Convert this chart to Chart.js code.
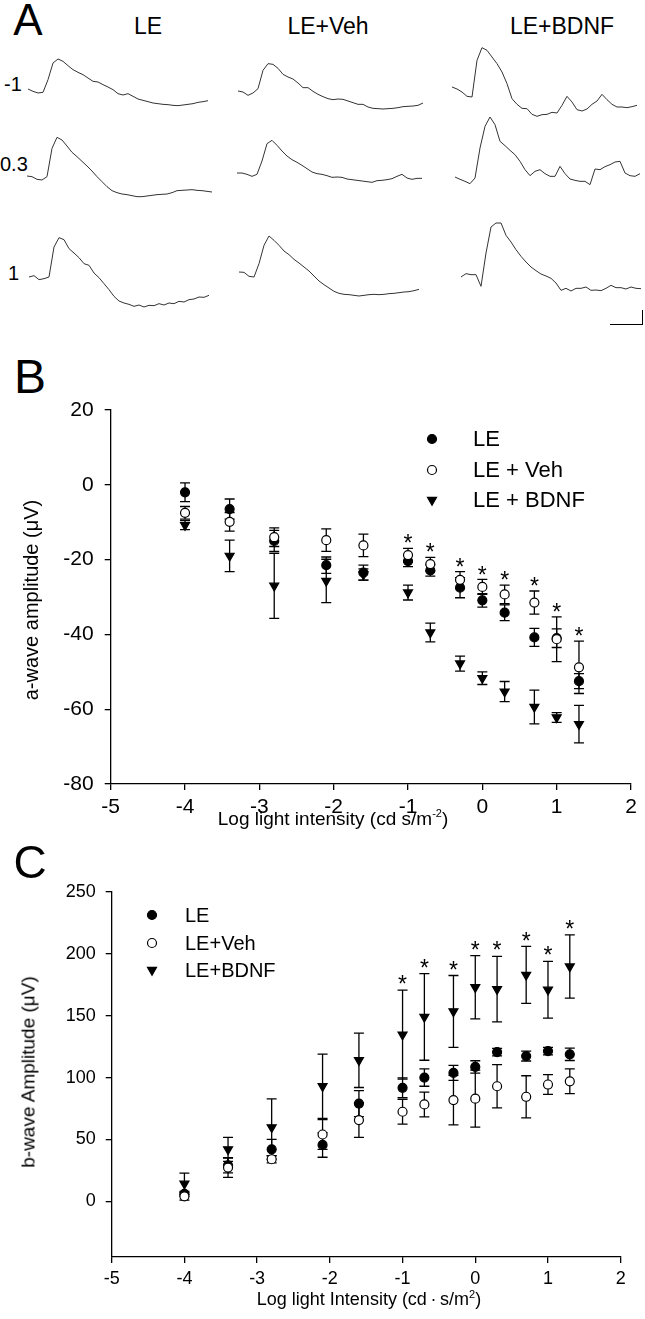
<!DOCTYPE html>
<html>
<head>
<meta charset="utf-8">
<script src="https://cdn.jsdelivr.net/npm/chart.js@4.4.0/dist/chart.umd.min.js"></script>
<style>
  body { margin: 0; background: #fff; }
  #fig { position: relative; width: 645px; height: 1319px; overflow: hidden;
         font-family: "Liberation Sans", Arial, sans-serif; color: #000; }
  .txt { position: absolute; white-space: nowrap; line-height: 1; }
  canvas { position: absolute; }
</style>
</head>
<body>
<div id="fig"></div>
<script>
// ---- panel A: ERG traces (amplitude in µV, one sample every 5 ms) ----
const groups = ["LE", "LE+Veh", "LE+BDNF"];
const flashLabels = ["-1", "0.3", "1"];

const ergLE_m1 = [0,-7,-12,-10,28,78,90,83,70,58,50,43,33,23,21,13,6,-2,-14,-18,-14,-22,-30,-34,-38,-42,-44,-46,-47,-49,-50,-48,-46,-44,-40,-38,-35];
const ergLE_03 = [0,-2,-10,-12,-2,83,116,108,90,71,58,44,30,15,-2,-17,-32,-44,-50,-54,-56,-59,-62,-62,-60,-58,-56,-55,-54,-50,-44,-43,-42,-41,-43,-44,-46,-48];
const ergLE_1 = [0,4,-8,-5,0,90,118,112,85,72,58,40,35,12,-2,-20,-38,-58,-72,-78,-82,-88,-84,-90,-85,-86,-80,-84,-78,-80,-73,-75,-68,-66,-60,-61,-55];
const ergVeh_m1 = [0,-3,-13,-6,7,62,82,80,68,50,42,36,24,10,10,-1,-10,-17,-23,-26,-24,-25,-30,-35,-40,-40,-48,-52,-53,-54,-53,-52,-50,-47,-46,-45,-43,-36];
const ergVeh_03 = [0,0,-4,-10,-4,36,88,98,83,66,51,40,32,23,13,3,-2,-4,-8,-13,-12,-13,-18,-20,-22,-24,-26,-28,-23,-22,-20,-17,-10,-4,-15,-19,-16,-16];
const ergVeh_1 = [0,-1,-13,-15,25,80,108,95,80,63,52,38,27,15,3,-12,-27,-38,-48,-58,-64,-67,-68,-70,-72,-70,-68,-67,-68,-67,-65,-64,-62,-60,-59,-56,-52];
const ergBDNF_m1 = [0,-6,-15,-28,-30,80,118,110,90,70,45,10,-35,-52,-64,-65,-82,-88,-83,-82,-76,-78,-55,-28,-45,-68,-72,-66,-52,-42,-22,-38,-52,-60,-60,-62,-59,-55];
const ergBDNF_03 = [0,-7,-13,-20,-3,87,152,180,157,107,94,80,67,47,22,4,17,22,10,2,2,32,10,-6,-10,-13,-13,-23,24,22,31,37,45,47,12,4,2,10];
const ergBDNF_1 = [0,10,7,7,-28,72,150,162,162,125,105,82,62,45,30,19,9,3,-4,-18,-40,-34,-42,-34,-34,-30,-40,-39,-41,-34,-25,-32,-32,-36,-30,-34,-35];
const SAMPLE_MS = 5;

// ---- panels B and C: mean ± SEM ----
const intensity = [-4, -3.4, -2.8, -2.1, -1.6, -1, -0.7, -0.3, 0, 0.3, 0.7, 1, 1.3];

const aLE = [-2, -6.5, -15, -21.5, -23.5, -20.4, -22.9, -27.5, -30.9, -34.2, -40.8, -41, -52.5];
const aLEErr = [2.5, 2.7, 2.8, 2.2, 2, 1.5, 1.5, 2.7, 1.8, 2.1, 2.4, 2.5, 2];
const aVeh = [-7.5, -9.9, -14, -14.8, -16.2, -18.8, -21.2, -25.4, -27.3, -29.3, -31.5, -41.3, -48.8];
const aVehErr = [1.7, 2.5, 2.5, 3, 3, 1.8, 1.8, 2.2, 2, 2.5, 3.1, 6, 7];
const aBDNF = [-10.8, -19, -27, -25.7, -24, -28.8, -39.5, -47.8, -51.7, -55.3, -59.4, -62.2, -64];
const aBDNFErr = [1.2, 4.2, 8.7, 5.8, 1.5, 2, 2.5, 2, 1.7, 2.7, 4.5, 1.3, 5];

const bLE = [6, 29, 42, 45.6, 79, 91.7, 100, 103.8, 108.6, 120.6, 117.4, 121.4, 118.8];
const bLEErr = [2, 6, 8, 10, 10.5, 8, 7, 6, 5, 3, 4, 3, 5];
const bVeh = [4, 27.3, 34, 54, 65.7, 72.4, 78.3, 81.8, 83, 93, 84.5, 94.4, 97];
const bVehErr = [3, 8, 3, 12, 14, 10, 10, 20, 23, 17.5, 17, 8, 10];
const bBDNF = [14.2, 42, 59.8, 93, 114, 134.7, 149, 153.5, 173, 171.5, 183, 171, 189.8];
const bBDNFErr = [8.6, 9.7, 23, 26, 22, 36, 35, 29, 25.6, 26.5, 23, 23, 25.5];

const aSignificant = [-1, -0.7, -0.3, 0, 0.3, 0.7, 1, 1.3];
const bSignificant = [-1, -0.7, -0.3, 0, 0.3, 0.7, 1, 1.3];

const xTicks = [-5, -4, -3, -2, -1, 0, 1, 2];
const aYTicks = [-80, -60, -40, -20, 0, 20];
const bYTicks = [0, 50, 100, 150, 200, 250];
const aLegend = ["LE", "LE + Veh", "LE + BDNF"];
const bLegend = ["LE", "LE+Veh", "LE+BDNF"];

// ---------------------------------------------------------------
const fig = document.getElementById("fig");
Chart.defaults.font.family = '"Liberation Sans", Arial, sans-serif';
Chart.defaults.color = "#000";

function addText(html, x, y, size, opts = {}) {
  const d = document.createElement("div");
  d.className = "txt";
  d.innerHTML = html;
  d.style.fontSize = size + "px";
  d.style.left = x + "px";
  d.style.top = y + "px";
  const tx = opts.align === "left" ? "0" : "-50%";
  d.style.transform = `translate(${tx},-50%)` + (opts.rotate ? " rotate(-90deg)" : "");
  fig.appendChild(d);
  return d;
}

function addCanvas(left, top, w, h) {
  const c = document.createElement("canvas");
  c.width = w; c.height = h;
  c.style.left = left + "px"; c.style.top = top + "px";
  c.style.width = w + "px"; c.style.height = h + "px";
  fig.appendChild(c);
  return c;
}

// panel A
addText("A", 28, 20, 44);
addText(groups[0], 148, 26, 23);
addText(groups[1], 328, 26, 23);
addText(groups[2], 562, 26, 23);
addText(flashLabels[0], 4, 84, 20, { align: "left" });
addText(flashLabels[1], 0, 164, 20, { align: "left" });
addText(flashLabels[2], 8, 273, 20, { align: "left" });

const TRACE_MIN = -105, TRACE_MAX = 195, UV_PER_PX = 3;
const traces = [
  [ergLE_m1, 28.3, 89.3], [ergLE_03, 26.7, 176], [ergLE_1, 29.3, 276.7],
  [ergVeh_m1, 238.3, 90.7], [ergVeh_03, 236.7, 172.7], [ergVeh_1, 239, 271.7],
  [ergBDNF_m1, 451.7, 86.7], [ergBDNF_03, 455, 177.3], [ergBDNF_1, 460.7, 277.3]
];
traces.forEach(([vals, left, base]) => {
  const w = (vals.length - 1) * SAMPLE_MS;
  const h = (TRACE_MAX - TRACE_MIN) / UV_PER_PX;
  const c = addCanvas(left, base - TRACE_MAX / UV_PER_PX, w, h);
  new Chart(c, {
    type: "line",
    data: {
      labels: vals.map((_, i) => i * SAMPLE_MS),
      datasets: [{ data: vals, borderColor: "#333", borderWidth: 1, pointRadius: 0, tension: 0 }]
    },
    options: {
      responsive: false, animation: false, devicePixelRatio: 1,
      layout: { padding: 0 },
      plugins: { legend: { display: false }, tooltip: { enabled: false } },
      scales: { x: { display: false }, y: { display: false, min: TRACE_MIN, max: TRACE_MAX } }
    }
  });
});
// scale bar
const bar = document.createElement("div");
Object.assign(bar.style, { position: "absolute", left: "610px", top: "310px", width: "32px", height: "14px",
  borderRight: "1.5px solid #000", borderBottom: "1.5px solid #000" });
fig.appendChild(bar);

// ---- plugins for B and C ----
const CAP = 5;
const errorBars = {
  id: "errorBars",
  beforeDatasetsDraw(chart) {
    const { ctx, scales: { x, y } } = chart;
    ctx.save();
    ctx.strokeStyle = "#000";
    ctx.lineWidth = 1.3;
    chart.data.datasets.forEach(ds => {
      ds.data.forEach((p, i) => {
        const e = ds.errors[i];
        const px = x.getPixelForValue(p.x);
        const t = y.getPixelForValue(p.y + e), b = y.getPixelForValue(p.y - e);
        ctx.beginPath();
        ctx.moveTo(px, t); ctx.lineTo(px, b);
        ctx.moveTo(px - CAP, t); ctx.lineTo(px + CAP, t);
        ctx.moveTo(px - CAP, b); ctx.lineTo(px + CAP, b);
        ctx.stroke();
      });
    });
    ctx.restore();
  },
  afterDatasetsDraw(chart, args, opts) {
    // significance stars above the highest cap
    const { ctx, scales: { x, y } } = chart;
    ctx.save();
    ctx.fillStyle = "#000";
    ctx.font = `${opts.starSize}px "Liberation Sans", Arial`;
    ctx.textAlign = "center";
    ctx.textBaseline = "alphabetic";
    opts.significant.forEach(xv => {
      let top = Infinity;
      chart.data.datasets.forEach(ds => {
        const i = ds.data.findIndex(p => p.x === xv);
        if (i >= 0) top = Math.min(top, y.getPixelForValue(ds.data[i].y + ds.errors[i]));
      });
      ctx.fillText("*", x.getPixelForValue(xv), top - opts.gap + 0.57 * opts.starSize);
    });
    ctx.restore();
  }
};

const pointLegend = {
  id: "pointLegend",
  afterDraw(chart, args, opts) {
    const { ctx } = chart;
    ctx.save();
    chart.data.datasets.forEach((ds, i) => {
      const y = opts.rows[i];
      ctx.fillStyle = ds.backgroundColor;
      ctx.strokeStyle = ds.borderColor;
      ctx.lineWidth = ds.borderWidth;
      Chart.helpers.drawPoint(ctx, {
        pointStyle: ds.pointStyle, radius: ds.pointRadius, rotation: ds.rotation || 0,
        borderWidth: ds.borderWidth
      }, opts.symbolX, y);
      ctx.fillStyle = "#000";
      ctx.font = `${opts.size}px "Liberation Sans", Arial`;
      ctx.textAlign = "left";
      ctx.textBaseline = "middle";
      ctx.fillText(opts.labels[i], opts.textX, y + 1);
    });
    ctx.restore();
  }
};

function series(vals, errs, style) {
  return Object.assign({
    data: intensity.map((x, i) => ({ x, y: vals[i] })),
    errors: errs,
    borderColor: "#000",
    borderWidth: 1.2
  }, style);
}
const styleLE = { backgroundColor: "#000", pointStyle: "circle", pointRadius: 4.5, order: 1 };
const styleVeh = { backgroundColor: "#fff", pointStyle: "circle", pointRadius: 4.5, order: 0 };
const styleBDNF = { backgroundColor: "#000", pointStyle: "triangle", pointRadius: 5.2, rotation: 180, order: 2 };

function axisOpts(min, max, ticks, size, pad, fit) {
  return {
    type: "linear", min, max,
    afterBuildTicks: s => { s.ticks = ticks.map(v => ({ value: v })); },
    afterFit: fit,
    grid: { drawOnChartArea: false, drawTicks: true, tickLength: 6, color: "#000", lineWidth: 1.3 },
    border: { color: "#000", width: 1.3 },
    ticks: { color: "#000", font: { size }, padding: pad, maxRotation: 0, autoSkip: false,
             callback: v => String(v) }
  };
}

function scatterPanel(canvas, datasets, cfg) {
  return new Chart(canvas, {
    type: "scatter",
    data: { datasets },
    plugins: [errorBars, pointLegend],
    options: {
      responsive: false, animation: false, devicePixelRatio: 1,
      layout: { padding: cfg.padding },
      plugins: {
        legend: { display: false }, tooltip: { enabled: false },
        errorBars: { significant: cfg.significant, gap: cfg.starGap, starSize: 23 },
        pointLegend: cfg.legend
      },
      scales: {
        x: axisOpts(-5, 2, xTicks, cfg.tickSize, cfg.xPad, s => { s.height = cfg.xAxisH; }),
        y: axisOpts(cfg.yMin, cfg.yMax, cfg.yTicks, cfg.tickSize, cfg.yPad, s => { s.width = cfg.yAxisW; })
      }
    }
  });
}

// panel B
addText("B", 30, 377, 48);
const cB = addCanvas(0, 380, 645, 460);
scatterPanel(cB, [
  series(aLE, aLEErr, styleLE),
  series(aVeh, aVehErr, styleVeh),
  series(aBDNF, aBDNFErr, styleBDNF)
], {
  padding: { top: 30, right: 14, left: 0, bottom: 0 },
  yMin: -80, yMax: 20, yTicks: aYTicks, tickSize: 21, xPad: 5, yPad: 11,
  xAxisH: 56, yAxisW: 110.7, significant: aSignificant, starGap: 10,
  legend: { labels: aLegend, symbolX: 432, textX: 473, rows: [59, 90, 120], size: 22 }
});
addText("a-wave amplitude (&mu;V)", 31, 600, 20, { rotate: true });
addText("Log light intensity (cd s/m<sup style='font-size:11px'>-2</sup>)", 333, 818, 19);

// panel C
addText("C", 30, 862, 46);
const cC = addCanvas(0, 860, 645, 459);
scatterPanel(cC, [
  series(bLE, bLEErr, styleLE),
  series(bVeh, bVehErr, styleVeh),
  series(bBDNF, bBDNFErr, styleBDNF)
], {
  padding: { top: 32, right: 24.3, left: 0, bottom: 0 },
  yMin: -45, yMax: 250, yTicks: bYTicks, tickSize: 18, xPad: 5, yPad: 10,
  xAxisH: 62, yAxisW: 111.7, significant: bSignificant, starGap: 11,
  legend: { labels: bLegend, symbolX: 152, textX: 185, rows: [55, 83, 110], size: 20 }
});
addText("b-wave Amplitude (&mu;V)", 28, 1072, 19, { rotate: true });
addText("Log light Intensity (cd&thinsp;&middot;&thinsp;s/m<sup style='font-size:11px'>2</sup>)", 369, 1298, 18);
</script>
</body>
</html>
